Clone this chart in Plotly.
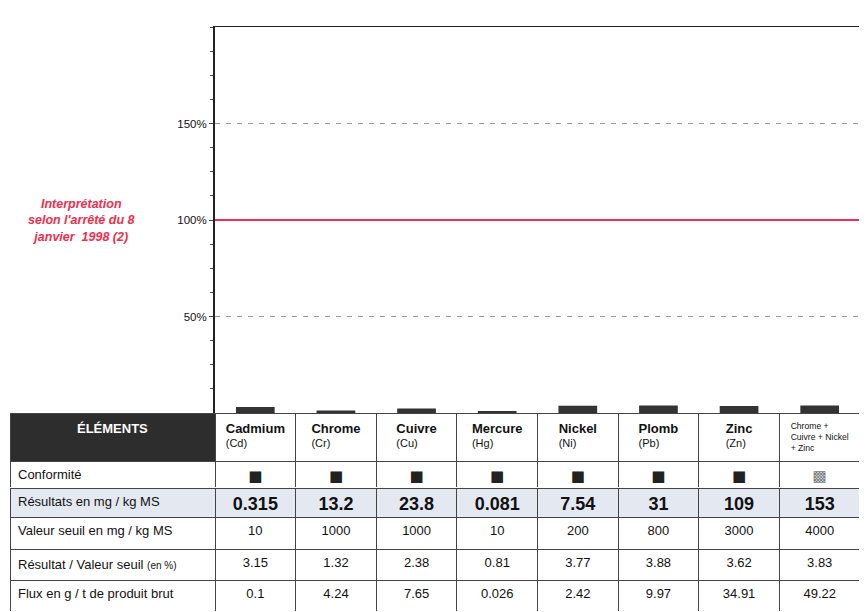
import plotly.graph_objects as go

# ---- data ----
elements = ["Cadmium", "Chrome", "Cuivre", "Mercure", "Nickel", "Plomb", "Zinc", "Chrome + Cuivre + Nickel + Zinc"]
symbols = ["(Cd)", "(Cr)", "(Cu)", "(Hg)", "(Ni)", "(Pb)", "(Zn)", ""]
conformite = ["■", "■", "■", "■", "■", "■", "■", "▩"]
resultats = ["0.315", "13.2", "23.8", "0.081", "7.54", "31", "109", "153"]
seuils = ["10", "1000", "1000", "10", "200", "800", "3000", "4000"]
ratio_pct = [3.15, 1.32, 2.38, 0.81, 3.77, 3.88, 3.62, 3.83]
flux = ["0.1", "4.24", "7.65", "0.026", "2.42", "9.97", "34.91", "49.22"]
row_labels = ["Conformité", "Résultats en mg / kg MS", "Valeur seuil en mg / kg MS",
              "Résultat / Valeur seuil <span style='font-size:10px'>(en %)</span><br>",
              "Flux en g / t de produit brut"]
y_ticks = [50, 100, 150]
y_ticktext = ["50%", "100%", "150%"]
limit_pct = 100

# page has an 8px body margin: lay out in reference pixels, shifted by 8
OFF = 8
W, H = 867 - OFF, 612 - OFF
FONT = "Liberation Sans, Arial, sans-serif"
N = len(elements)


def px(x):
    return (x - OFF) / W


def py(y):
    return max(0.0, 1 - (y - OFF) / H)


fig = go.Figure()

fig.add_trace(go.Bar(
    x=elements, y=ratio_pct, marker=dict(color="#333333", line=dict(width=0)),
    width=0.48, xaxis="x", yaxis="y", showlegend=False,
))

colw = [205] + [80.6] * N
tx = [px(10), px(860)]
LINE = dict(color="#444", width=1)
ALIGN = ["left"] + ["center"] * N

# --- table A: element header + conformity row ---
hdr = ["<b>ÉLÉMENTS</b>"]
for e, s in zip(elements, symbols):
    if s:
        hdr.append(f"<b><span style='font-size:13px'>{e}</span></b><br>{s}")
    else:
        hdr.append("Chrome +<br>Cuivre + Nickel<br>+ Zinc")

fig.add_trace(go.Table(
    domain=dict(x=tx, y=[py(488), py(413)]),
    columnwidth=colw,
    header=dict(
        values=hdr,
        fill=dict(color=["#2d2d2d"] + ["white"] * N),
        font=dict(family=FONT, size=[13] + [11] * (N - 1) + [8.6],
                  color=["white"] + ["#111"] * N),
        align="center", height=46, line=LINE,
    ),
    cells=dict(
        values=[[row_labels[0]]] + [[c] for c in conformite],
        fill=dict(color="white"),
        font=dict(family=[FONT] + ["DejaVu Sans"] * N, size=[13] + [15] * N,
                  color=["#111"] + ["#222"] * (N - 1) + ["#777"]),
        align=ALIGN, height=29, line=LINE,
    ),
))

# --- table B: results row (bold, large) ---
res_vals = [row_labels[1]] + resultats
res_font = dict(family=FONT, size=[13] + [18] * N, color="#111")
try:
    res_font_w = dict(res_font, weight=["normal"] + ["bold"] * N)
    tB = go.Table(
        domain=dict(x=tx, y=[py(517), py(488)]), columnwidth=colw,
        header=dict(values=res_vals, fill=dict(color="#e4e8f0"), font=res_font_w,
                    align=ALIGN, height=29, line=LINE))
    fig.add_trace(tB)
except Exception:
    tB = go.Table(
        domain=dict(x=tx, y=[py(517), py(488)]), columnwidth=colw,
        header=dict(values=res_vals, fill=dict(color="#e4e8f0"),
                    font=dict(res_font, weight="bold"),
                    align=ALIGN, height=29, line=LINE))
    fig.add_trace(tB)

# --- table C: threshold, ratio and flux rows ---
fig.add_trace(go.Table(
    domain=dict(x=tx, y=[0.0, py(517)]),
    columnwidth=colw,
    header=dict(
        values=[row_labels[2]] + seuils,
        fill=dict(color="white"),
        font=dict(family=FONT, size=13, color="#111"),
        align=ALIGN, height=32, line=LINE,
    ),
    cells=dict(
        values=[[row_labels[3], row_labels[4]]] + [[f"{r:g}", f] for r, f in zip(ratio_pct, flux)],
        fill=dict(color="white"),
        font=dict(family=FONT, size=13, color="#111"),
        align=ALIGN, height=31, line=LINE,
    ),
))

fig.add_hline(y=limit_pct, line=dict(color="#e8305a", width=2))

fig.add_annotation(
    text="<b><i>Interprétation<br>selon l'arrêté du 8<br>janvier  1998 (2)</i></b>",
    xref="paper", yref="y", x=px(81), y=limit_pct, xanchor="center", yanchor="middle",
    showarrow=False,
    font=dict(family=FONT, size=12.5, color="#ef2e4e"), align="center",
)

fig.update_layout(
    width=W, height=H,
    margin=dict(l=0, r=0, t=0, b=0),
    paper_bgcolor="white", plot_bgcolor="white",
    font=dict(family=FONT, color="#111"),
    xaxis=dict(domain=[px(215), px(860)], showticklabels=False, ticks="",
               showline=True, linecolor="#222", linewidth=1, mirror=True,
               showgrid=False, zeroline=False),
    yaxis=dict(domain=[py(413), py(27)], range=[0, 200],
               tickmode="array", tickvals=y_ticks, ticktext=y_ticktext,
               ticks="outside", ticklen=4,
               tickfont=dict(size=11.5, color="#111"),
               showline=True, linecolor="#222", linewidth=2, mirror=True,
               showgrid=True, gridcolor="#999999", griddash="5px,6px", gridwidth=1,
               zeroline=False,
               minor=dict(dtick=12.5, ticks="outside", ticklen=3, tickcolor="#444", showgrid=False)),
)

fig.write_html("out.html")
